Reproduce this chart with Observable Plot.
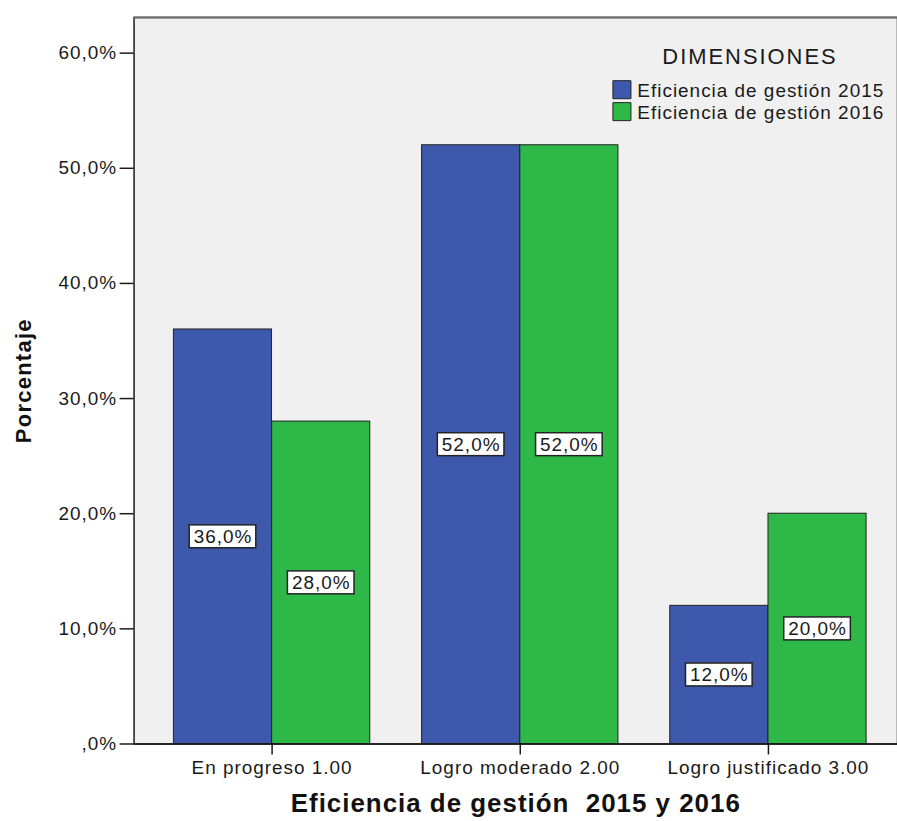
<!DOCTYPE html>
<html><head><meta charset="utf-8">
<script src="https://cdn.jsdelivr.net/npm/d3@7"></script>
<script src="https://cdn.jsdelivr.net/npm/@observablehq/plot@0.6"></script>
<style>
body{margin:0;background:#fff;}
#chart{width:897px;height:821px;overflow:hidden;position:relative;}
</style></head><body><div id="chart"></div>
<script>
// ---- data ----
const categories = ["En progreso 1.00", "Logro moderado 2.00", "Logro justificado 3.00"];
const series = ["Eficiencia de gestión 2015", "Eficiencia de gestión 2016"];
const values2015 = [36, 52, 12];
const values2016 = [28, 52, 20];
const yTicks = [0, 10, 20, 30, 40, 50, 60];
const yTickLabels = [",0%", "10,0%", "20,0%", "30,0%", "40,0%", "50,0%", "60,0%"];
const colors = ["#3e58ac", "#2eb848"];
const legendTitle = "DIMENSIONES";
const xTitle = "Eficiencia de gestión  2015 y 2016";
const yTitle = "Porcentaje";
const yMax = 63.1;

// ---- layout ----
const W = 900, H = 821, mL = 134, mT = 17, mB = 75, mR = 0;
const xRange = [134, 908], padIn = 0.21, padOut = 0.156;
const bw = d3.scaleBand().domain(categories).range(xRange)
  .paddingInner(padIn).paddingOuter(padOut).bandwidth();

const fmt = v => v.toFixed(1).replace(".", ",") + "%";
const rows = series.map((s, k) => categories.map((c, i) => ({
  cat: c, series: s, value: (k === 0 ? values2015 : values2016)[i]
})));

const legendMarks = series.flatMap((s, i) => [
  Plot.dot([s], {frameAnchor: "top-left", dx: 489.5, dy: 72.5 + 22 * i, symbol: "square", r: 10.2,
    fill: colors[i], stroke: "#222", strokeWidth: 1}),
  Plot.text([s], {frameAnchor: "top-left", dx: 505, dy: 74 + 22 * i, text: d => d,
    textAnchor: "start", lineAnchor: "middle", fontSize: 19, fill: "#1a1a1a"})
]);

const svg = Plot.plot({
  width: W, height: H,
  marginLeft: mL, marginTop: mT, marginBottom: mB, marginRight: mR,
  style: {fontFamily: "'Liberation Sans', Arial, sans-serif", fontSize: "19px", color: "#1a1a1a",
    letterSpacing: "1px", background: "#fff"},
  x: {domain: categories, range: xRange, paddingInner: padIn, paddingOuter: padOut, axis: null},
  y: {domain: [0, yMax], axis: null},
  marks: [
    Plot.frame({fill: "#f0f0f0", stroke: "#1a1a1a", strokeWidth: 1.5}),
    Plot.ruleY([yMax], {stroke: "#707070", strokeWidth: 2}),
    Plot.barY(rows[0], {x: "cat", y: "value", fill: colors[0], stroke: "#222", strokeWidth: 1, insetRight: bw / 2}),
    Plot.barY(rows[1], {x: "cat", y: "value", fill: colors[1], stroke: "#222", strokeWidth: 1, insetLeft: bw / 2}),
    Plot.ruleY([0], {stroke: "#1a1a1a", strokeWidth: 1.5}),
    Plot.axisY(yTicks, {tickFormat: d => yTickLabels[yTicks.indexOf(d)], tickSize: 14, tickPadding: 3,
      fontSize: 19, stroke: "#1a1a1a", strokeWidth: 1.5, fill: "#1a1a1a", label: null}),
    Plot.axisX(categories, {tickSize: 11, tickPadding: 6, fontSize: 19, stroke: "#1a1a1a", strokeWidth: 1.5,
      fill: "#1a1a1a", label: null}),
    Plot.text(rows[0], {x: "cat", y: d => d.value / 2, text: d => fmt(d.value), dx: -bw / 4,
      fontSize: 19, fill: "#1a1a1a", ariaDescription: "bar-label"}),
    Plot.text(rows[1], {x: "cat", y: d => d.value / 2, text: d => fmt(d.value), dx: bw / 4,
      fontSize: 19, fill: "#1a1a1a", ariaDescription: "bar-label"}),
    Plot.text([legendTitle], {frameAnchor: "top-left", dx: 618, dy: 40, text: d => d, fontSize: 22,
      textAnchor: "middle", lineAnchor: "middle", fill: "#1a1a1a", ariaDescription: "legend-title"}),
    ...legendMarks,
    Plot.text([yTitle], {frameAnchor: "left", dx: -110, rotate: -90, text: d => d, fontSize: 22,
      textAnchor: "middle", lineAnchor: "middle", fontWeight: "bold", fill: "#111", ariaDescription: "y-title"}),
    Plot.text([xTitle], {frameAnchor: "bottom", dy: 60, text: d => d, fontSize: 26,
      textAnchor: "middle", lineAnchor: "middle", fontWeight: "bold", fill: "#111", ariaDescription: "x-title"})
  ]
});

document.getElementById("chart").append(svg);

const textsOf = label => {
  const out = [];
  svg.querySelectorAll('[aria-description="' + label + '"]').forEach(el => {
    if (el.tagName.toLowerCase() === "text") out.push(el);
    else el.querySelectorAll("text").forEach(t => out.push(t));
  });
  return out;
};

textsOf("legend-title").forEach(t => t.style.letterSpacing = "2px");
textsOf("y-title").forEach(t => t.style.letterSpacing = "1.3px");

// white label boxes behind the bar value labels
textsOf("bar-label").forEach(t => {
  const b = t.getBBox();
  const cx = b.x + b.width / 2 - 0.5, cy = b.y + b.height / 2;
  const bwid = b.width + 8, bht = 23;
  const r = document.createElementNS("http://www.w3.org/2000/svg", "rect");
  r.setAttribute("x", cx - bwid / 2);
  r.setAttribute("y", cy - bht / 2);
  r.setAttribute("width", bwid);
  r.setAttribute("height", bht);
  r.setAttribute("fill", "#fff");
  r.setAttribute("stroke", "#222");
  r.setAttribute("stroke-width", "1.5");
  const tr = t.getAttribute("transform");
  if (tr) r.setAttribute("transform", tr);
  t.parentNode.insertBefore(r, t);
});
</script>
</body></html>
